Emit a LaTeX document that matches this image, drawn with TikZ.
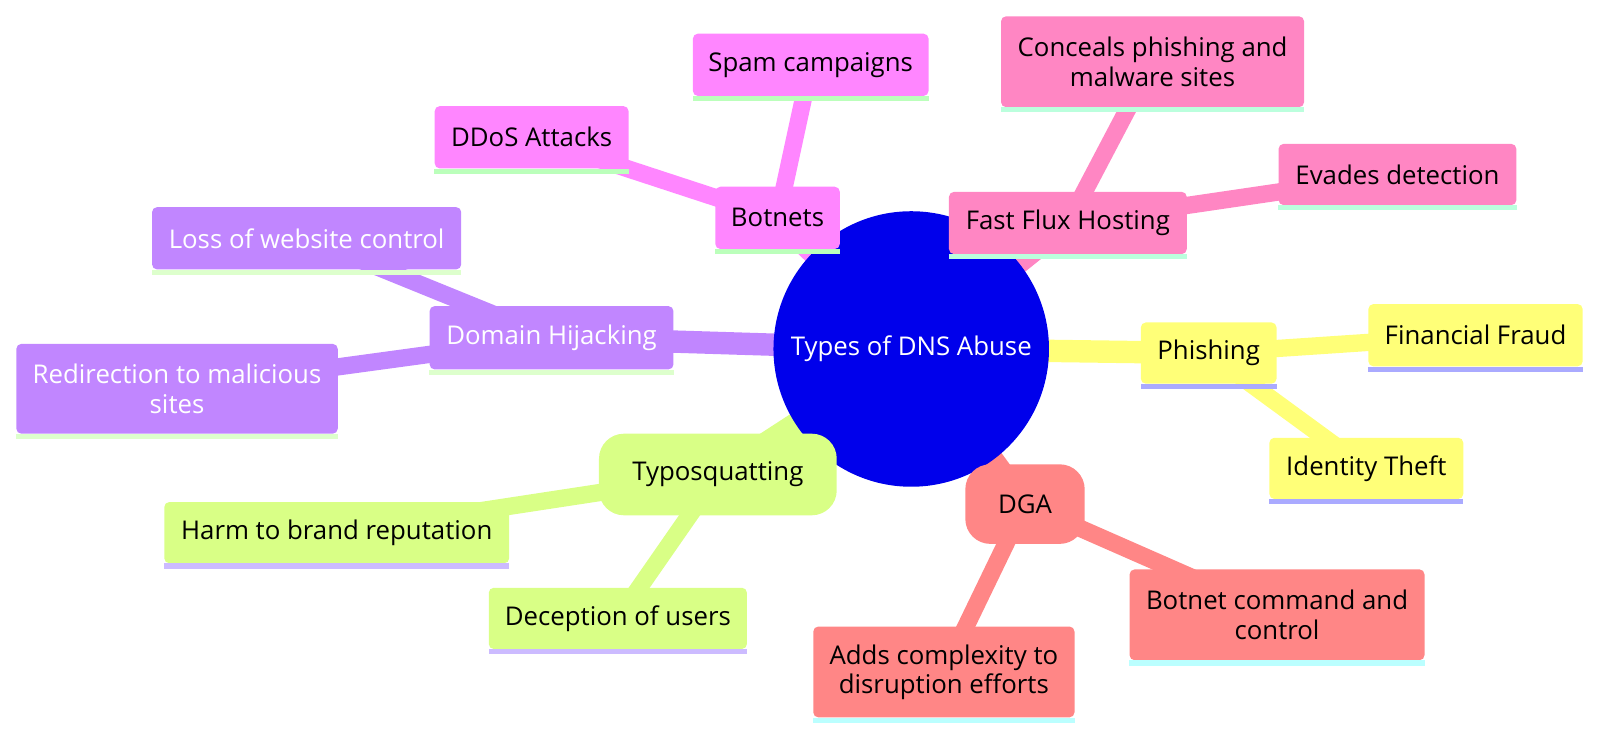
\documentclass[tikz,border=0pt]{standalone}
\usepackage{fontspec}
\setmainfont{Open Sans}
\usetikzlibrary{backgrounds,calc}
\definecolor{cYel}{HTML}{FFFF78}
\definecolor{cYelU}{HTML}{AAAAFF}
\definecolor{cLim}{HTML}{D9FF86}
\definecolor{cLimU}{HTML}{CCBBFF}
\definecolor{cPur}{HTML}{C186FF}
\definecolor{cPurU}{HTML}{DDFFCC}
\definecolor{cMag}{HTML}{FF86FF}
\definecolor{cMagU}{HTML}{BBFFBB}
\definecolor{cPnk}{HTML}{FF86C3}
\definecolor{cPnkU}{HTML}{BBFFDD}
\definecolor{cRed}{HTML}{FF8686}
\definecolor{cRedU}{HTML}{BBFFFF}
\definecolor{cRoot}{HTML}{0000EB}
\tikzset{
  every node/.style={font=\fontsize{25.8}{29.2}\selectfont, align=center, inner sep=0pt},
  leafbox/.style n args={3}{rectangle, rounded corners=5pt, fill=#1, minimum width=1.0204*#2, minimum height=1.0204*#3},
  roundbox/.style n args={3}{rectangle, rounded corners=25pt, fill=#1, minimum width=1.0204*#2, minimum height=1.0204*#3},
  rootedge/.style={line width=22.4pt},
  leafedge/.style={line width=17.3pt},
}
\newcommand{\uline}[2]{\fill[#2] (#1.south west) rectangle ($(#1.south east)+(0,5)$);}
\begin{document}
\begin{tikzpicture}[x=1.0204pt,y=-1.0204pt]
\useasboundingbox (0,0) rectangle (1568,723.2);
% root
\node[circle, fill=cRoot, minimum size=1.0204*270pt, text=white] (root) at (893,342) {Types of DNS Abuse};
% Botnets (magenta)
\node[leafbox={cMag}{122pt}{61pt}] (bot) at (762,213.5) {Botnets};
\node[leafbox={cMag}{231pt}{61pt}] (spam) at (794.5,63.5) {Spam campaigns};
\node[leafbox={cMag}{190pt}{61pt}] (ddos) at (521,134.5) {DDoS Attacks};
\uline{bot}{cMagU}\uline{spam}{cMagU}\uline{ddos}{cMagU}
% Fast Flux (pink)
\node[leafbox={cPnk}{233pt}{61pt}] (ffh) at (1046.5,218.5) {Fast Flux Hosting};
\node[leafbox={cPnk}{297pt}{89pt}] (conc) at (1129.5,60.5) {Conceals phishing and\\malware sites};
\node[leafbox={cPnk}{233pt}{60pt}] (evad) at (1369.5,171) {Evades detection};
\uline{ffh}{cPnkU}\uline{conc}{cPnkU}\uline{evad}{cPnkU}
% Phishing (yellow)
\node[leafbox={cYel}{133pt}{60pt}] (phish) at (1184.5,346) {Phishing};
\node[leafbox={cYel}{210pt}{61pt}] (fin) at (1446,328.5) {Financial Fraud};
\node[leafbox={cYel}{190pt}{60pt}] (ident) at (1339,459) {Identity Theft};
\uline{phish}{cYelU}\uline{fin}{cYelU}\uline{ident}{cYelU}
% DGA (red)
\node[roundbox={cRed}{117pt}{78pt}] (dga) at (1004.5,494) {DGA};
\node[leafbox={cRed}{289pt}{89pt}] (bcc) at (1251.5,602.5) {Botnet command and\\control};
\node[leafbox={cRed}{256pt}{89pt}] (adds) at (925,658.5) {Adds complexity to\\disruption efforts};
\uline{bcc}{cRedU}\uline{adds}{cRedU}
% Typosquatting (lime)
\node[roundbox={cLim}{233pt}{80pt}] (typo) at (703.5,465) {Typosquatting};
\node[leafbox={cLim}{338pt}{60pt}] (harm) at (330,522) {Harm to brand reputation};
\node[leafbox={cLim}{253pt}{60pt}] (decep) at (605.5,606) {Deception of users};
\uline{harm}{cLimU}\uline{decep}{cLimU}
% Domain Hijacking (purple)
\node[leafbox={cPur}{239pt}{62pt}, text=white] (dh) at (540.5,331) {Domain Hijacking};
\node[leafbox={cPur}{303pt}{61pt}, text=white] (loss) at (300.5,233.5) {Loss of website control};
\node[leafbox={cPur}{315pt}{88pt}, text=white] (redir) at (173.5,381) {Redirection to malicious\\sites};
\uline{dh}{cPurU}\uline{loss}{cPurU}\uline{redir}{cPurU}
% edges
\begin{scope}[on background layer]
\draw[rootedge, cMag] (root.center) -- (bot.center);
\draw[rootedge, cPnk] (root.center) -- (ffh.center);
\draw[rootedge, cYel] (root.center) -- (phish.center);
\draw[rootedge, cRed] (root.center) -- (dga.center);
\draw[rootedge, cLim] (root.center) -- (typo.center);
\draw[rootedge, cPur] (root.center) -- (dh.center);
\draw[leafedge, cMag] (bot.center) -- (spam.center);
\draw[leafedge, cMag] (bot.center) -- (ddos.center);
\draw[leafedge, cPnk] (ffh.center) -- (conc.center);
\draw[leafedge, cPnk] (ffh.center) -- (evad.center);
\draw[leafedge, cYel] (phish.center) -- (fin.center);
\draw[leafedge, cYel] (phish.center) -- (ident.center);
\draw[leafedge, cRed] (dga.center) -- (bcc.center);
\draw[leafedge, cRed] (dga.center) -- (adds.center);
\draw[leafedge, cLim] (typo.center) -- (harm.center);
\draw[leafedge, cLim] (typo.center) -- (decep.center);
\draw[leafedge, cPur] (dh.center) -- (loss.center);
\draw[leafedge, cPur] (dh.center) -- (redir.center);
\end{scope}
\end{tikzpicture}
\end{document}
